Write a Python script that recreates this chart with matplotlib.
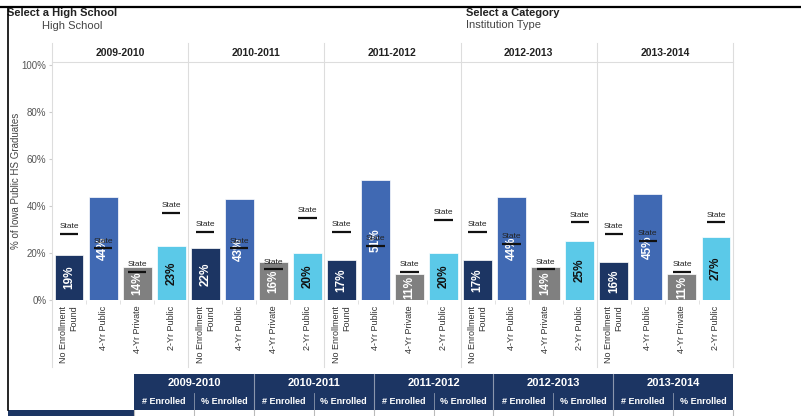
import matplotlib
matplotlib.use("Agg")
import matplotlib.pyplot as plt
from matplotlib.lines import Line2D
from matplotlib.patches import Rectangle
import numpy as np

plt.rcParams['font.family'] = ['Liberation Sans', 'DejaVu Sans']

# ---------------- data ----------------
years = ['2009-2010', '2010-2011', '2011-2012', '2012-2013', '2013-2014']
categories = ['No Enrollment\nFound', '4-Yr Public', '4-Yr Private', '2-Yr Public']
no_enroll = [19, 22, 17, 17, 16]
four_pub = [44, 43, 51, 44, 45]
four_priv = [14, 16, 11, 14, 11]
two_pub = [23, 20, 20, 25, 27]
state_no_enroll = [28, 29, 29, 29, 28]
state_four_pub = [22, 22, 23, 24, 25]
state_four_priv = [12, 13, 12, 13, 12]
state_two_pub = [37, 35, 34, 33, 33]
yticks = [0, 20, 40, 60, 80, 100]
table_sub = ['# Enrolled', '% Enrolled']

series = [no_enroll, four_pub, four_priv, two_pub]
states = [state_no_enroll, state_four_pub, state_four_priv, state_two_pub]
colors = ['#1c3563', '#4069b3', '#808080', '#5bc9e8']
label_colors = ['white', 'white', 'white', '#111111']
navy = '#1c3563'

W, H = 801, 416
fig = plt.figure(figsize=(W / 100, H / 100), dpi=100)

def fx(px):
    return px / W

def fy(py):
    return 1 - py / H

x0, x1 = 52, 733
ytop, ybot = 62, 300
ymax = (ybot - ytop) / 2.35
ax = fig.add_axes([fx(x0), fy(ybot), fx(x1) - fx(x0), fy(ytop) - fy(ybot)])
ax.set_xlim(0, 20)
ax.set_ylim(0, ymax)
for s in ax.spines.values():
    s.set_visible(False)

ncat = len(categories)
xs_all, labs_all = [], []
for yi, yr in enumerate(years):
    for ci in range(ncat):
        x = yi * ncat + ci + 0.5
        v = series[ci][yi]
        st = states[ci][yi]
        ax.bar(x, v, width=0.85, color=colors[ci], edgecolor='white', linewidth=0.5, zorder=2)
        ax.text(x, v / 2, f'{v}%', rotation=90, ha='center', va='center',
                color=label_colors[ci], fontsize=8.5, fontweight='bold', zorder=3)
        ax.hlines(st, x - 0.27, x + 0.27, color='#111111', linewidth=1.6, zorder=4)
        ax.text(x, st + 1.6, 'State', ha='center', va='bottom', fontsize=6,
                color='#222222', zorder=4)
        xs_all.append(x)
        labs_all.append(categories[ci])

ax.set_xticks(xs_all)
ax.set_xticklabels(labs_all, rotation=90, fontsize=6.5, color='#333333',
                   va='top', ha='center', multialignment='right')
ax.set_xticks(np.arange(0, 21), minor=True)
ax.tick_params(axis='x', which='major', length=0, pad=4)
ax.tick_params(axis='x', which='minor', length=3, color='#dddddd')
ax.set_yticks(yticks)
ax.set_yticklabels([f'{t}%' for t in yticks], fontsize=7, color='#555555')
ax.tick_params(axis='y', length=2, color='#cccccc', pad=2)

fig.text(fx(16), fy(181), '% of Iowa Public HS Graduates', rotation=90,
         ha='center', va='center', fontsize=7, color='#444444')

# grid lines (panel separators, header)
panel_w = (x1 - x0) / len(years)
for i in range(len(years) + 1):
    xp = x0 + i * panel_w
    fig.add_artist(Line2D([fx(xp), fx(xp)], [fy(43), fy(367)], color='#dddddd', lw=0.8))
fig.add_artist(Line2D([fx(x0), fx(x1)], [fy(62), fy(62)], color='#dddddd', lw=0.8))
for i, yr in enumerate(years):
    fig.text(fx(x0 + (i + 0.5) * panel_w), fy(52.5), yr, ha='center', va='center',
             fontsize=7.5, fontweight='bold', color='#222222')

# top texts
fig.text(fx(7), fy(13), 'Select a High School', ha='left', va='center', fontsize=8,
         fontweight='bold', color='#222222', zorder=1)
fig.text(fx(42), fy(26), 'High School', ha='left', va='center', fontsize=8, color='#444444')
fig.text(fx(466), fy(12.5), 'Select a Category', ha='left', va='center', fontsize=8,
         fontweight='bold', color='#222222', zorder=1)
fig.text(fx(466), fy(24.5), 'Institution Type', ha='left', va='center', fontsize=8,
         color='#444444')

# frame
fig.add_artist(Line2D([0, 1], [fy(7), fy(7)], color='black', lw=1.6, zorder=10))
fig.add_artist(Line2D([fx(8), fx(8)], [fy(7), fy(410)], color='black', lw=1.2, zorder=10))

# bottom table
tx0, tx1 = 134, 733
gw = (tx1 - tx0) / len(years)
fig.add_artist(Rectangle((fx(tx0), fy(410)), fx(tx1) - fx(tx0), fy(374) - fy(410),
                         transform=fig.transFigure, facecolor=navy, edgecolor='none'))
fig.add_artist(Rectangle((fx(8), 0), fx(tx0) - fx(8), fy(410),
                         transform=fig.transFigure, facecolor=navy, edgecolor='none'))
narrow = ['Liberation Sans Narrow', 'Liberation Sans', 'DejaVu Sans']
for i, yr in enumerate(years):
    gx = tx0 + i * gw
    if i > 0:
        fig.add_artist(Line2D([fx(gx), fx(gx)], [fy(374), fy(410)], color='#8a96ad', lw=0.8))
    fig.add_artist(Line2D([fx(gx + gw / 2), fx(gx + gw / 2)], [fy(393), fy(410)],
                          color='#8a96ad', lw=0.6))
    fig.text(fx(gx + gw / 2), fy(383.5), yr, ha='center', va='center', fontsize=8,
             fontweight='bold', color='white')
    for j, sub in enumerate(table_sub):
        fig.text(fx(gx + gw / 4 + j * gw / 2), fy(401.5), sub, ha='center', va='center',
                 fontsize=6.5, fontweight='bold', color='white', family=narrow)
for k in range(len(years) * 2 + 1):
    xx = tx0 + k * gw / 2
    fig.add_artist(Line2D([fx(xx), fx(xx)], [0, fy(410)], color='#bbbbbb', lw=0.8))

fig.savefig('out.png', dpi=100, facecolor='white')
